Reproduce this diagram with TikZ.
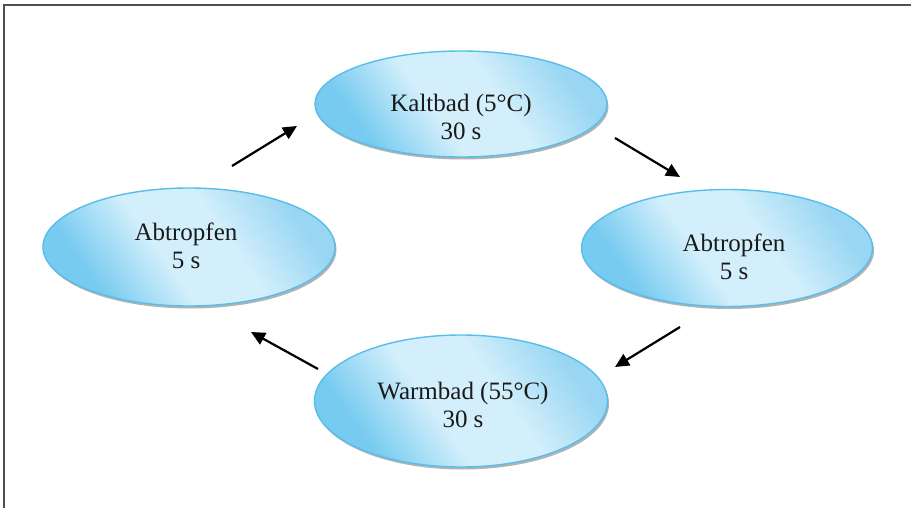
\documentclass[tikz,border=0pt]{standalone}
\usepackage{fontspec}
\setmainfont{Liberation Serif}
\usetikzlibrary{shapes.geometric,shadows,arrows.meta}
\definecolor{bdark}{HTML}{78CBF0}
\definecolor{blight}{HTML}{D3EFFB}
\definecolor{btop}{HTML}{98D6F3}
\definecolor{bedge}{HTML}{58BEE9}
\definecolor{frameline}{HTML}{505050}
\definecolor{txtc}{HTML}{1A1A1A}
\pgfdeclareverticalshading{blobshade}{100bp}{color(0bp)=(bdark); color(28bp)=(bdark); color(44bp)=(blight); color(58bp)=(blight); color(74bp)=(btop); color(100bp)=(btop)}
\tikzset{
  blob/.style={ellipse, inner sep=0pt, draw=bedge, line width=1.4pt,
    shading=blobshade, shading angle=-55,
    drop shadow={shadow xshift=1.5pt, shadow yshift=-2.5pt, fill=black!55, opacity=0.55}},
  lbl/.style={align=center, text=txtc, inner sep=0pt, font=\fontsize{25}{28}\selectfont},
  flow/.style={line width=2.2pt, -{Triangle[length=14pt,width=13pt]}},
  frame/.style={draw=frameline, line width=1.3pt}
}
\begin{document}
\begin{tikzpicture}[x=1pt,y=-1pt]
\useasboundingbox (0,0) rectangle (911,508);
% frame
\coordinate (f1) at (911,5);
\coordinate (f2) at (4,5);
\coordinate (f3) at (4,508);
\draw[frame] (f1) -- (f2) -- (f3);
% ellipses
\node[blob, minimum width=292, minimum height=106] (kalt) at (461,104) {};
\node[blob, minimum width=292, minimum height=118] (abl) at (189,247) {};
\node[blob, minimum width=291, minimum height=117] (abr) at (727,248) {};
\node[blob, minimum width=293, minimum height=132] (warm) at (461,401) {};
% texts
\node[lbl] (kaltT) at (461,117) {Kaltbad (5°C)\\30 s};
\node[lbl] (ablT) at (186,246) {Abtropfen\\5 s};
\node[lbl] (abrT) at (734,257) {Abtropfen\\5 s};
\node[lbl] (warmT) at (463,405) {Warmbad (55°C)\\30 s};
% arrow ends
\coordinate (a1s) at (232,166);
\coordinate (a1e) at (297,126);
\coordinate (a2s) at (615,138);
\coordinate (a2e) at (680,177);
\coordinate (a3s) at (680,327);
\coordinate (a3e) at (615,367);
\coordinate (a4s) at (318,369);
\coordinate (a4e) at (251,332);
\draw[flow] (a1s) -- (a1e);
\draw[flow] (a2s) -- (a2e);
\draw[flow] (a3s) -- (a3e);
\draw[flow] (a4s) -- (a4e);
\end{tikzpicture}
\end{document}
